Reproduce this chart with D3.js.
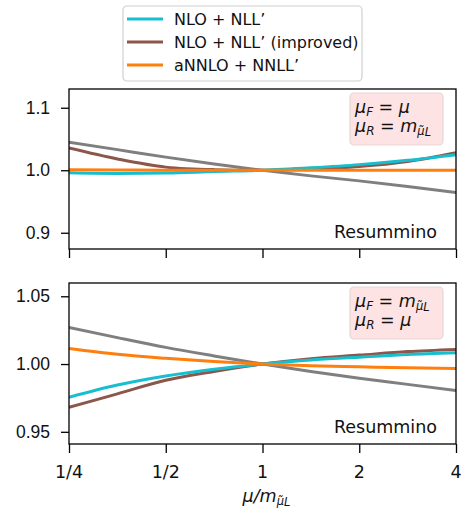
<!DOCTYPE html>
<html>
<head>
<meta charset="utf-8">
<script src="https://cdn.jsdelivr.net/npm/d3@7"></script>
<style>
  body { margin: 0; background: #fff; }
  svg { font-family: "DejaVu Sans", sans-serif; }
</style>
</head>
<body>
<div id="chart"></div>
<script>
// x positions are log2(mu / m)
const xs = [-2, -1.5, -1, -0.5, 0, 0.5, 1, 1.5, 2];
const xTicks = [-2, -1, 0, 1, 2];
const xTickLabels = ["1/4", "1/2", "1", "2", "4"];

const seriesNames = ["NLO + NLL\u2019", "NLO + NLL\u2019 (improved)", "aNNLO + NNLL\u2019"];
const colors = { nlo: "#17becf", imp: "#8c564b", annlo: "#ff7f0e", gray: "#7f7f7f" };

// top panel: muF = mu, muR = m
const topGray = [1.045, 1.033, 1.021, 1.010, 1.0, 0.991, 0.983, 0.974, 0.9645];
const topImp = [1.0355, 1.018, 1.005, 1.001, 1.0, 1.002, 1.006, 1.014, 1.028];
const topNlo = [0.996, 0.995, 0.9955, 0.998, 1.0, 1.004, 1.009, 1.016, 1.025];
const topAnnlo = [1.001, 1.0005, 1.0, 1.0, 1.0, 1.0, 1.0, 1.0, 1.0];
const topTicks = [0.9, 1.0, 1.1];

// bottom panel: muF = m, muR = mu
const botGray = [1.027, 1.0195, 1.0123, 1.006, 1.0, 0.9945, 0.9895, 0.985, 0.9804];
const botImp = [0.968, 0.978, 0.988, 0.9945, 1.0, 1.004, 1.0066, 1.0092, 1.0108];
const botNlo = [0.9755, 0.9845, 0.9912, 0.9962, 1.0, 1.003, 1.005, 1.007, 1.0083];
const botAnnlo = [1.0115, 1.0072, 1.0042, 1.0018, 1.0, 0.9988, 0.998, 0.9972, 0.9968];
const botTicks = [0.95, 1.0, 1.05];

const width = 463, height = 512;
const left = 69, right = 456;
const fs = "17.5px";
const ink = "#111";

const svg = d3.select("#chart").append("svg")
  .attr("width", width).attr("height", height);

const x = d3.scaleLinear().domain([-2, 2]).range([left, right]);

function panel(top, bottom, yDomain, yTicks, fmt, lines, muF, muR) {
  const y = d3.scaleLinear().domain(yDomain).range([bottom, top]);
  const g = svg.append("g");

  g.append("defs").append("clipPath").attr("id", "clip" + top)
    .append("rect").attr("x", left).attr("y", top)
    .attr("width", right - left).attr("height", bottom - top);

  const line = d3.line().x((d, i) => x(xs[i])).y(d => y(d)).curve(d3.curveMonotoneX);
  const plot = g.append("g").attr("clip-path", `url(#clip${top})`);
  lines.forEach(l => {
    plot.append("path").attr("d", line(l.values))
      .attr("fill", "none").attr("stroke", l.color).attr("stroke-width", 3);
  });

  const yAxis = g.append("g").attr("transform", `translate(${left},0)`)
    .call(d3.axisLeft(y).tickValues(yTicks).tickFormat(fmt).tickSize(8).tickPadding(11));
  yAxis.select(".domain").remove();
  yAxis.selectAll("text").style("font-size", fs).style("fill", ink);
  yAxis.selectAll("line").attr("stroke", "#000").attr("stroke-width", 1.3);

  const xAxis = g.append("g").attr("transform", `translate(0,${bottom})`)
    .call(d3.axisBottom(x).tickValues(xTicks).tickFormat("").tickSize(9));
  xAxis.select(".domain").remove();
  xAxis.selectAll("line").attr("stroke", "#000").attr("stroke-width", 1.3);

  g.append("rect").attr("x", left).attr("y", top)
    .attr("width", right - left).attr("height", bottom - top)
    .attr("fill", "none").attr("stroke", "#000").attr("stroke-width", 1.3);

  // annotation box
  const ab = g.append("g").attr("transform", `translate(350,${top + 4})`);
  ab.append("rect").attr("width", 93).attr("height", 52).attr("rx", 4)
    .attr("fill", "#fde3e3").attr("stroke", "#e8d6d6").attr("stroke-width", 1.2);
  [muF, muR].forEach((parts, i) => {
    const t = ab.append("text").attr("x", 5).attr("y", 20 + i * 19)
      .style("font-size", fs).style("fill", ink);
    parts.forEach(p => {
      const s = t.append("tspan").text(p.t);
      if (p.it) s.style("font-style", "italic");
      if (p.dy) s.attr("dy", p.dy);
      if (p.size) s.style("font-size", p.size);
    });
  });

  g.append("text").attr("x", right - 19).attr("y", bottom - 11)
    .attr("text-anchor", "end").style("font-size", fs).style("fill", ink)
    .text("Resummino");
  return y;
}

const mSub = [
  { t: "m", it: true },
  { t: "\u03bc\u0303", it: true, size: "11.5px", dy: 3 },
  { t: "L", it: true, size: "11.5px", dy: 1 }
];
const eq = { t: " = ", dy: -3 };
const muFmu = [{ t: "\u03bc", it: true }, { t: "F", it: true, size: "12px", dy: 3 }, eq, { t: "\u03bc", it: true }];
const muRmu = [{ t: "\u03bc", it: true }, { t: "R", it: true, size: "12px", dy: 3 }, eq, { t: "\u03bc", it: true }];
const muFm = [{ t: "\u03bc", it: true }, { t: "F", it: true, size: "12px", dy: 3 }, eq].concat(mSub);
const muRm = [{ t: "\u03bc", it: true }, { t: "R", it: true, size: "12px", dy: 3 }, eq].concat(mSub);

panel(89, 249, [0.874, 1.13], topTicks, d3.format(".1f"), [
  { values: topGray, color: colors.gray },
  { values: topImp, color: colors.imp },
  { values: topNlo, color: colors.nlo },
  { values: topAnnlo, color: colors.annlo }
], muFmu, muRm);

panel(283, 444, [0.941, 1.0598], botTicks, d3.format(".2f"), [
  { values: botGray, color: colors.gray },
  { values: botImp, color: colors.imp },
  { values: botNlo, color: colors.nlo },
  { values: botAnnlo, color: colors.annlo }
], muFm, muRmu);

// bottom x tick labels
svg.append("g").selectAll("text").data(xTicks).join("text")
  .attr("x", d => x(d)).attr("y", 478).attr("text-anchor", "middle")
  .style("font-size", fs).style("fill", ink)
  .text((d, i) => xTickLabels[i]);

// x label
const xl = svg.append("text").attr("x", x(0) + 4).attr("y", 502).attr("text-anchor", "middle")
  .style("font-size", fs).style("fill", ink);
xl.append("tspan").text("\u03bc/").style("font-style", "italic");
xl.append("tspan").text("m").style("font-style", "italic");
xl.append("tspan").text("\u03bc\u0303").style("font-style", "italic").style("font-size", "11.5px").attr("dy", 3);
xl.append("tspan").text("L").style("font-style", "italic").style("font-size", "11.5px").attr("dy", 1);

// legend
const lg = svg.append("g").attr("transform", "translate(123,6)");
lg.append("rect").attr("width", 239).attr("height", 75).attr("rx", 4)
  .attr("fill", "#fff").attr("stroke", "#d0d0d0").attr("stroke-width", 1.2);
const legendColors = [colors.nlo, colors.imp, colors.annlo];
seriesNames.forEach((name, i) => {
  const yy = 13 + i * 23;
  lg.append("line").attr("x1", 4).attr("x2", 40).attr("y1", yy).attr("y2", yy)
    .attr("stroke", legendColors[i]).attr("stroke-width", 3.2);
  lg.append("text").attr("x", 51).attr("y", yy + 6)
    .style("font-size", "16px").style("fill", ink).text(name);
});
</script>
</body>
</html>
